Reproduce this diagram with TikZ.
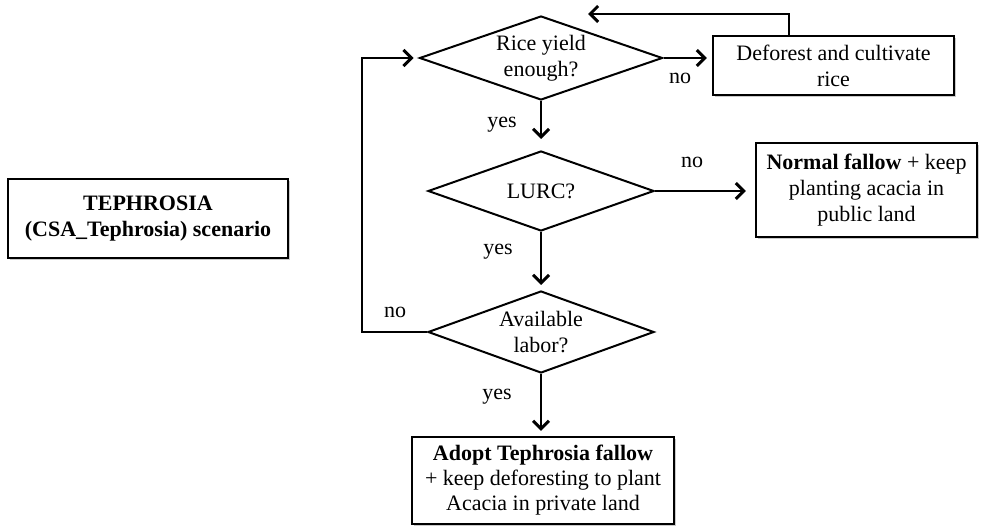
\documentclass[tikz,border=0pt]{standalone}
\usepackage{fontspec}
\setmainfont{Liberation Serif}
\usetikzlibrary{shapes.geometric,arrows.meta,shadows}
\begin{document}
\begin{tikzpicture}[x=1pt,y=-1pt,
  every node/.style={font=\fontsize{22}{26}\selectfont},
  decision/.style={diamond, draw, line width=2pt, inner sep=0pt, align=center},
  outcome/.style={rectangle, draw, line width=2.2pt, fill=white, align=center, inner sep=0pt,
    drop shadow={shadow xshift=2pt, shadow yshift=-2pt, opacity=0.35, fill=black!60}},
  flow/.style={line width=2pt, -{Straight Barb[length=8pt,width=16pt,line width=3pt]}, shorten >=5pt},
  lbl/.style={inner sep=0pt}]
\useasboundingbox (0,0) rectangle (982,526);

% decisions
\node[decision, minimum width=243pt, minimum height=84pt, aspect=2.9] (rice) at (541,58) {Rice yield\\enough?};
\node[decision, minimum width=226pt, minimum height=80pt, aspect=2.8] (lurc) at (541,191) {LURC?};
\node[decision, minimum width=226pt, minimum height=82pt, aspect=2.75] (labor) at (541,332) {Available\\labor?};

% outcome boxes
\node[outcome, minimum width=241pt, minimum height=59pt] (defor) at (833.5,65.5) {Deforest and cultivate\\rice};
\node[outcome, minimum width=280pt, minimum height=79pt, font=\fontsize{22}{26}\selectfont\bfseries] (scen) at (148,218.5) {TEPHROSIA\\(CSA\_Tephrosia) scenario};
\node[outcome, minimum width=221pt, minimum height=94pt] (normal) at (866.5,190) {\textbf{Normal fallow} + keep\\planting acacia in\\public land};
\node[outcome, minimum width=262pt, minimum height=87pt, font=\fontsize{22}{25}\selectfont] (adopt) at (543,480.5) {\textbf{Adopt Tephrosia fallow}\\+ keep deforesting to plant\\Acacia in private land};

% routing points
\coordinate (up) at (789,14);
\coordinate (fb) at (588,14);
\coordinate (lp) at (362,0);

% connectors
\draw[flow, shorten >=11pt] (rice.south) -- (lurc.north);
\draw[flow] (rice.east) -- (rice.east -| defor.west);
\draw[flow, shorten >=0pt] (defor.north -| up) -- (up) -- (fb);
\draw[flow, shorten >=9pt] (lurc.east) -- (lurc.east -| normal.west);
\draw[flow] (lurc.south) -- (labor.north);
\draw[flow] (labor.west) -- (labor.west -| lp) -- (rice.west -| lp) -- (rice.west);
\draw[flow] (labor.south) -- (labor.south |- adopt.north);

% branch labels
\node[lbl] at (680,78) {no};
\node[lbl] at (502,125) {yes};
\node[lbl] at (692,162) {no};
\node[lbl] at (498,252) {yes};
\node[lbl] at (395,312) {no};
\node[lbl] at (497,397) {yes};
\end{tikzpicture}
\end{document}
